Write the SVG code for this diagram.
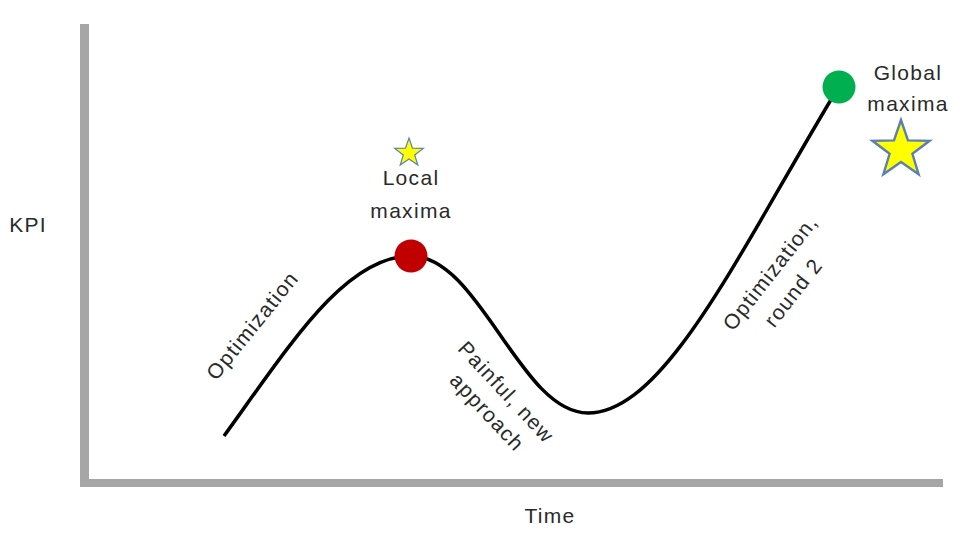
<svg xmlns="http://www.w3.org/2000/svg" width="975" height="545" viewBox="0 0 975 545">
<style>
.t{font-family:"Liberation Sans",Arial,sans-serif;font-size:21px;letter-spacing:1.3px;fill:#2a2a2a}
.axis{fill:#a6a6a6}
.star{fill:#ffff00;stroke:#5b7fb5;stroke-width:1.2}
</style>
<rect width="975" height="545" fill="#fff"/>
<g id="axes">
<rect class="axis" x="80" y="24" width="9" height="463"/>
<rect class="axis" x="80" y="479" width="863" height="8"/>
</g>
<g id="connectors">
<path d="M224,436 C290,345 345,256 411,256 C480,256 520,413 588,413 C665,413 740,250 838,88" fill="none" stroke="#000" stroke-width="3.5"/>
</g>
<g id="local-maxima">
<circle cx="411" cy="256" r="16.5" fill="#c00000"/>
<polygon class="star" transform="translate(409,153)" points="0,-15 3.5,-4.8 14.3,-4.6 5.7,1.9 8.8,12.1 0,6 -8.8,12.1 -5.7,1.9 -14.3,-4.6 -3.5,-4.8"/>
<text class="t" x="411" y="185" text-anchor="middle">Local</text>
<text class="t" x="411" y="218" text-anchor="middle">maxima</text>
</g>
<g id="global-maxima">
<circle cx="839" cy="87" r="16.5" fill="#00b050"/>
<polygon class="star" transform="translate(901,150) scale(2)" points="0,-15 3.5,-4.8 14.3,-4.6 5.7,1.9 8.8,12.1 0,6 -8.8,12.1 -5.7,1.9 -14.3,-4.6 -3.5,-4.8"/>
<text class="t" x="908" y="80" text-anchor="middle">Global</text>
<text class="t" x="908" y="111" text-anchor="middle">maxima</text>
</g>
<g id="labels">
<text class="t" x="28" y="232" text-anchor="middle">KPI</text>
<text class="t" x="550" y="523" text-anchor="middle">Time</text>
<text class="t" transform="translate(258,330) rotate(-51)" text-anchor="middle">Optimization</text>
<text class="t" transform="translate(501,397) rotate(47)" text-anchor="middle">Painful, new</text>
<text class="t" transform="translate(482,417) rotate(47)" text-anchor="middle">approach</text>
<text class="t" transform="translate(776,277) rotate(-52)" text-anchor="middle">Optimization,</text>
<text class="t" transform="translate(799,297) rotate(-52)" text-anchor="middle">round 2</text>
</g>
</svg>
